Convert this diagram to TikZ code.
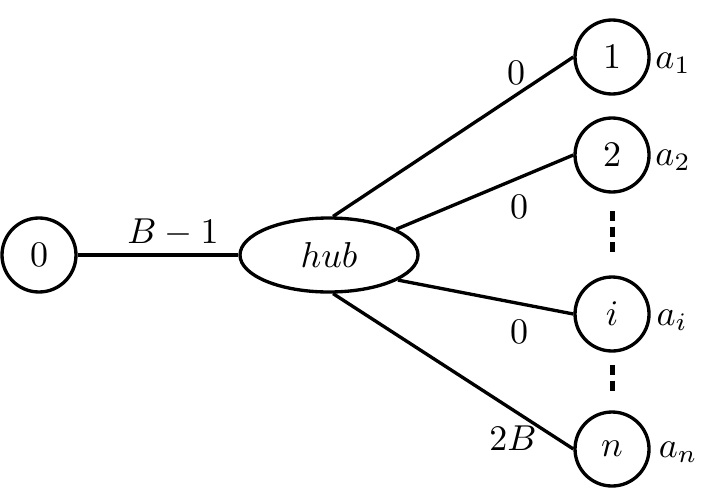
\RequirePackage{fix-cm}
\documentclass[tikz,border=0pt]{standalone}
\usetikzlibrary{shapes.geometric}
\begin{document}
\begin{tikzpicture}[x=0.3pt,y=-0.3pt,
  every node/.style={font=\fontsize{10.8}{13}\selectfont},
  vtx/.style={draw,circle,line width=1pt,minimum size=22.2pt,inner sep=0pt},
  hubnode/.style={draw,ellipse,line width=1pt,minimum width=53.4pt,minimum height=22.2pt,inner sep=0pt},
  edge/.style={line width=1pt},
  dots/.style={line width=1.5pt,dash pattern=on 3pt off 1.65pt},
  lbl/.style={inner sep=0pt}]
\useasboundingbox (0,0) rectangle (712,491);
\node[vtx] (v0) at (39,255) {$0$};
\node[hubnode] (hub) at (329,255) {$hub$};
\node[vtx] (v1) at (612,57) {$1$};
\node[vtx] (v2) at (612,155) {$2$};
\node[vtx] (vi) at (612,314) {$i$};
\node[vtx] (vn) at (612,449) {$n$};
\draw[edge] (v0) -- (hub);
\draw[edge] (hub.84) -- (v1.west);
\draw[edge] (hub.21) -- (v2.west);
\draw[edge] (hub.-20) -- (vi.west);
\draw[edge] (hub.-84) -- (vn.west);
\node[lbl] (lb) at (173,233) {$B-1$};
\node[lbl] (l1) at (516,73) {$0$};
\node[lbl] (l2) at (519,207) {$0$};
\node[lbl] (li) at (519,332) {$0$};
\node[lbl] (ln) at (513,438) {$2B$};
\node[lbl] (a1) at (673,63) {$a_1$};
\node[lbl] (a2) at (673,160) {$a_2$};
\node[lbl] (ai) at (672,320) {$a_i$};
\node[lbl] (an) at (678,452) {$a_n$};
\coordinate (d1s) at (612,211);
\coordinate (d1e) at (612,252);
\coordinate (d2s) at (612,365);
\coordinate (d2e) at (612,391);
\draw[dots] (d1s) -- (d1e);
\draw[dots] (d2s) -- (d2e);
\end{tikzpicture}
\end{document}
